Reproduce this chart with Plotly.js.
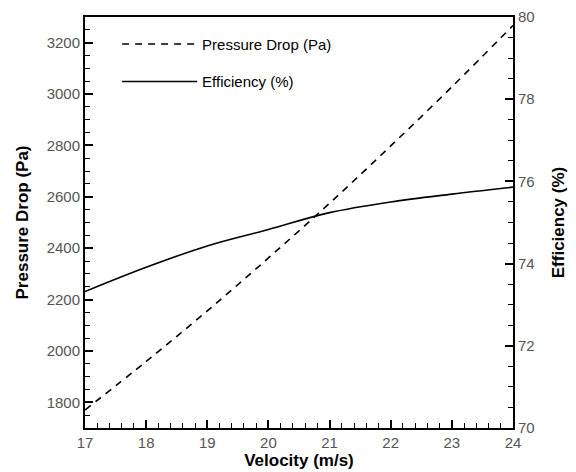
<!DOCTYPE html>
<html>
<head>
<meta charset="utf-8">
<script src="https://cdn.plot.ly/plotly-3.0.1.min.js"></script>
<style>html,body{margin:0;padding:0;background:#fff;}#chart{width:576px;height:472px;}</style>
</head>
<body>
<div id="chart"></div>
<script>
var velocity = [17, 18, 19, 20, 21, 22, 23, 24];
var pressureDrop = [1770, 1959, 2156, 2362, 2575, 2798, 3028, 3267];
var efficiency = [73.32, 73.91, 74.43, 74.83, 75.24, 75.50, 75.69, 75.86];
var xTitle = 'Velocity (m/s)';
var yTitle = 'Pressure Drop (Pa)';
var y2Title = 'Efficiency (%)';
var seriesNames = ['Pressure Drop (Pa)', 'Efficiency (%)'];

var font = 'Arial, "Liberation Sans", sans-serif';
var tickFont = {family: font, size: 15, color: '#555'};
var titleFont = {family: font, size: 17, color: '#000', weight: 'bold'};

var traces = [
  {x: velocity, y: pressureDrop, name: seriesNames[0], type: 'scatter', mode: 'lines', legendgroup: 'a',
   line: {color: '#000', width: 1.6, dash: '7px,6px', shape: 'spline'}, yaxis: 'y'},
  {x: velocity, y: efficiency, name: seriesNames[1], type: 'scatter', mode: 'lines', legendgroup: 'b',
   line: {color: '#000', width: 1.6, shape: 'spline'}, yaxis: 'y2'}
];

var layout = {
  width: 576, height: 472,
  margin: {l: 85, r: 63, t: 17, b: 44},
  paper_bgcolor: '#fff', plot_bgcolor: '#fff',
  showlegend: true,
  legend: {x: 0.075, y: 0.974, xanchor: 'left', yanchor: 'top', bgcolor: 'rgba(0,0,0,0)',
           font: {family: font, size: 15, color: '#000'}, itemwidth: 75, traceorder: 'grouped', tracegroupgap: 15},
  xaxis: {
    range: [17, 24], dtick: 1, tick0: 17, ticks: 'inside', ticklen: 8, tickwidth: 2, tickcolor: '#000',
    minor: {ticks: 'inside', dtick: 0.2, ticklen: 5, tickwidth: 1, tickcolor: '#000'},
    showline: true, linecolor: '#000', linewidth: 2, mirror: true, showgrid: false, zeroline: false,
    tickfont: tickFont,
    title: {text: xTitle, font: titleFont, standoff: 3}
  },
  yaxis: {
    range: [1700, 3300], dtick: 200, tick0: 1800, ticks: 'inside', ticklen: 8, tickwidth: 2, tickcolor: '#000',
    minor: {ticks: 'inside', dtick: 50, ticklen: 5, tickwidth: 1, tickcolor: '#000'},
    showline: true, linecolor: '#000', linewidth: 2, mirror: true, showgrid: false, zeroline: false,
    tickfont: tickFont,
    title: {text: yTitle, font: titleFont, standoff: 14}
  },
  yaxis2: {
    overlaying: 'y', side: 'right',
    range: [70, 80], dtick: 2, ticks: 'inside', ticklen: 8, tickwidth: 2, tickcolor: '#000',
    minor: {ticks: 'inside', dtick: 0.5, ticklen: 5, tickwidth: 1, tickcolor: '#000'},
    showline: true, linecolor: '#000', linewidth: 2, showgrid: false, zeroline: false,
    tickfont: tickFont,
    title: {text: y2Title, font: titleFont, standoff: 18}
  }
};

Plotly.newPlot('chart', traces, layout, {displayModeBar: false, staticPlot: true});
</script>
</body>
</html>
